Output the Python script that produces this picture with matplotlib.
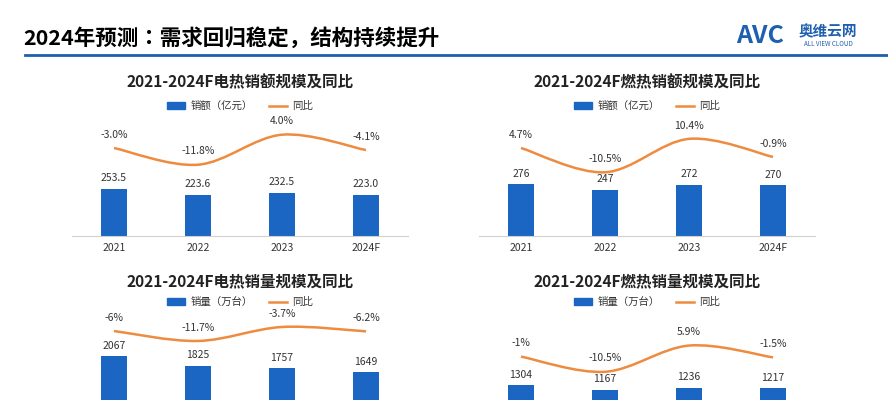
import matplotlib
matplotlib.use("Agg")
import matplotlib.pyplot as plt
from matplotlib.path import Path
from matplotlib.patches import PathPatch, Patch
from matplotlib.lines import Line2D

plt.rcParams['font.family'] = ['Noto Sans CJK JP', 'Noto Sans CJK SC', 'DejaVu Sans']

years = ["2021", "2022", "2023", "2024F"]
elec_amt = [253.5, 223.6, 232.5, 223.0]
elec_amt_yoy = [-3.0, -11.8, 4.0, -4.1]
gas_amt = [276, 247, 272, 270]
gas_amt_yoy = [4.7, -10.5, 10.4, -0.9]
elec_vol = [2067, 1825, 1757, 1649]
elec_vol_yoy = [-6, -11.7, -3.7, -6.2]
gas_vol = [1304, 1167, 1236, 1217]
gas_vol_yoy = [-1, -10.5, 5.9, -1.5]

W, H = 888, 400
BLUE = '#1A66C2'
ORANGE = '#EE8B3F'

fig = plt.figure(figsize=(W/100, H/100), dpi=100)
fig.text(23/W, 1-38/H, "2024年预测：需求回归稳定，结构持续提升", fontsize=15.5,
         fontweight='bold', va='center', ha='left')
fig.add_artist(Line2D([25/W, 1], [1-55/H, 1-55/H], color='#1F5FAF', lw=2))
fig.text(760/W, 1-36/H, "AVC", fontsize=18, fontweight='bold', style='italic',
         color='#1F5FAF', ha='center', va='center')
fig.text(828/W, 1-31/H, "奥维云网", fontsize=10.5, fontweight='bold',
         color='#1F5FAF', ha='center', va='center')
fig.text(828/W, 1-44/H, "ALL VIEW CLOUD", fontsize=4.5, color='#1F5FAF',
         ha='center', va='center')


def panel(x0, x1, top, base, bar_k, zero_y, pct_k, vals, yoy, title, title_y,
          legend_y, bar_label, vfmt, pfmt, show_x):
    ax = fig.add_axes([x0/W, 1-base/H, (x1-x0)/W, (base-top)/H])
    hpx = base - top
    ax.set_xlim(-0.5, 3.5)
    ax.set_ylim(0, hpx/bar_k)
    xs = list(range(len(years)))
    ax.bar(xs, vals, width=0.31, color=BLUE, zorder=2)
    for x, v in zip(xs, vals):
        ax.annotate(vfmt.format(v), (x, v), xytext=(0, 4), textcoords='offset points',
                    ha='center', va='bottom', fontsize=7.5, color='#333333')
    for s in ['top', 'right', 'left']:
        ax.spines[s].set_visible(False)
    ax.spines['bottom'].set_color('#D0D0D0')
    ax.set_yticks([])
    ax.set_xticks(xs)
    if show_x:
        ax.set_xticklabels(years, fontsize=7.5, color='#333333')
    else:
        ax.set_xticklabels([])
    ax.tick_params(axis='x', length=0, pad=5)
    ax.patch.set_alpha(0)
    a2 = ax.twinx()
    zero_from_bottom = base - zero_y
    lo = -zero_from_bottom/pct_k
    a2.set_ylim(lo, lo + hpx/pct_k)
    a2.set_yticks([])
    for s in a2.spines.values():
        s.set_visible(False)
    pts = list(zip(xs, yoy))
    verts = [pts[0]]
    codes = [Path.MOVETO]
    for i in range(len(pts)-1):
        p0 = pts[i-1] if i > 0 else pts[i]
        p1, p2 = pts[i], pts[i+1]
        p3 = pts[i+2] if i+2 < len(pts) else pts[i+1]
        c1 = (p1[0] + (p2[0]-p0[0])/6, p1[1] + (p2[1]-p0[1])/6)
        c2 = (p2[0] - (p3[0]-p1[0])/6, p2[1] - (p3[1]-p1[1])/6)
        verts += [c1, c2, p2]
        codes += [Path.CURVE4]*3
    a2.add_patch(PathPatch(Path(verts, codes), fill=False, edgecolor=ORANGE, lw=1.8,
                           clip_on=False))
    for x, v in zip(xs, yoy):
        a2.annotate(pfmt(v), (x, v), xytext=(0, 6), textcoords='offset points',
                    ha='center', va='bottom', fontsize=7.5, color='#333333',
                    annotation_clip=False)
    cx = (x0+x1)/2/W
    fig.text(cx, 1-title_y/H, title, fontsize=11.2, fontweight='bold',
             ha='center', va='center', color='#222222')
    fig.legend(handles=[Patch(color=BLUE, label=bar_label),
                        Line2D([], [], color=ORANGE, lw=1.8, label="同比")],
               loc='center', bbox_to_anchor=(cx, 1-legend_y/H), ncol=2, frameon=False,
               fontsize=7.5, handlelength=1.8, handleheight=0.6, columnspacing=1.5,
               handletextpad=0.5, labelcolor='#333333')


pf1 = lambda v: f"{v:.1f}%"
def pf2(v):
    return f"{v:g}%" if float(v).is_integer() else f"{v:.1f}%"

panel(72, 408, 70, 236, 0.1854, 142.3, 1.9, elec_amt, elec_amt_yoy,
      "2021-2024F电热销额规模及同比", 82, 106, "销额（亿元）", "{:.1f}", pf1, True)
panel(479, 815, 70, 236, 0.188, 155.5, 1.6, gas_amt, gas_amt_yoy,
      "2021-2024F燃热销额规模及同比", 82, 106, "销额（亿元）", "{:d}", pf1, True)
panel(72, 408, 315, 435, 0.038, 320.5, 1.75, elec_vol, elec_vol_yoy,
      "2021-2024F电热销量规模及同比", 281, 302, "销量（万台）", "{:d}", pf2, False)
panel(479, 815, 315, 432, 0.036, 355, 1.6, gas_vol, gas_vol_yoy,
      "2021-2024F燃热销量规模及同比", 281, 302, "销量（万台）", "{:d}", pf2, False)

fig.savefig("out.png", dpi=100)
